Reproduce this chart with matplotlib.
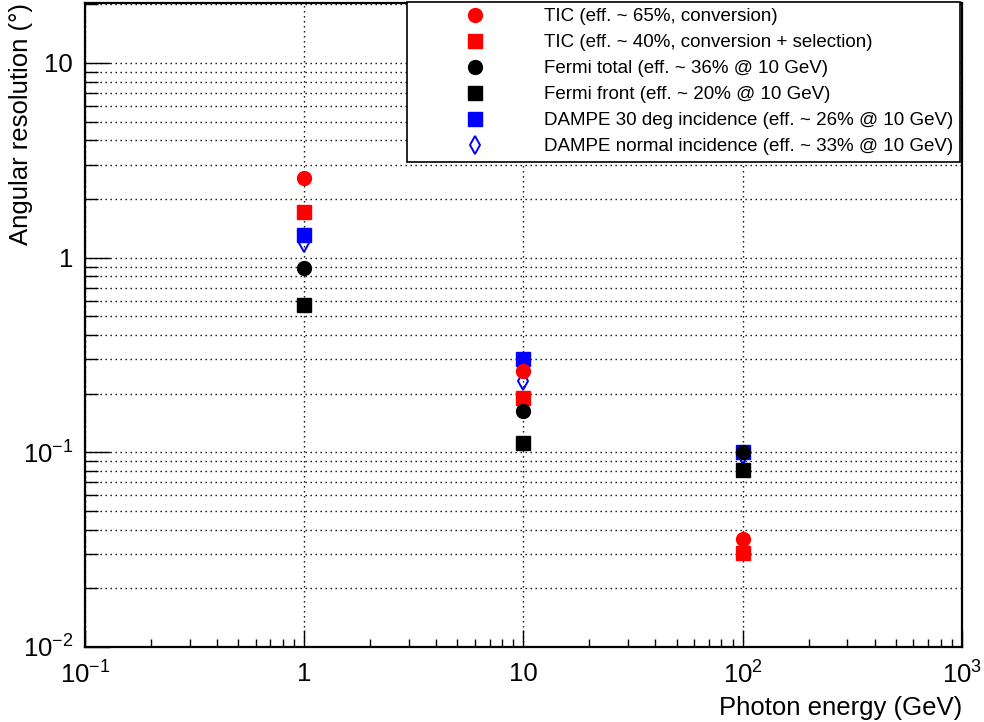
import matplotlib
matplotlib.use("Agg")
import matplotlib.pyplot as plt
from matplotlib.ticker import FixedLocator, FixedFormatter, NullFormatter

plt.rcParams['font.family'] = ['Liberation Sans', 'DejaVu Sans']
plt.rcParams['mathtext.fontset'] = 'custom'
plt.rcParams['mathtext.rm'] = 'Liberation Sans'
plt.rcParams['mathtext.it'] = 'Liberation Sans'

# data (energy in GeV, angular resolution in degrees)
energy = [1, 10, 100]
tic_conv = [2.57, 0.26, 0.036]
tic_sel = [1.72, 0.189, 0.0303]
fermi_total = [0.88, 0.162, 0.100]
fermi_front = [0.57, 0.111, 0.081]
dampe_30 = [1.30, 0.303, 0.100]
dampe_normal = [1.19, 0.231, 0.097]

labels = [
    "TIC (eff. ~ 65%, conversion)",
    "TIC (eff. ~ 40%, conversion + selection)",
    "Fermi total (eff. ~ 36% @ 10 GeV)",
    "Fermi front (eff. ~ 20% @ 10 GeV)",
    "DAMPE 30 deg incidence (eff. ~ 26% @ 10 GeV)",
    "DAMPE normal incidence (eff. ~ 33% @ 10 GeV)",
]

xticks = [0.1, 1, 10, 100, 1000]
xticklabels = ["$10^{-1}$", "1", "10", "$10^{2}$", "$10^{3}$"]
yticks = [0.01, 0.1, 1, 10]
yticklabels = ["$10^{-2}$", "$10^{-1}$", "1", "10"]

fig = plt.figure(figsize=(9.84, 7.22), dpi=100)
ax = fig.add_axes([0.0864, 0.1039, 0.8912, 0.8919])
ax.set_xscale('log')
ax.set_yscale('log')
ax.set_xlim(0.1, 1000)
ax.set_ylim(0.01, 20.3)

# draw order: DAMPE, TIC, Fermi
h5, = ax.plot(energy, dampe_30, 's', color='#0000ff', ms=9.5, ls='none', zorder=3)
h6, = ax.plot(energy, dampe_normal, 'd', mfc='none', mec='#0000ff', mew=1.4, ms=9, ls='none', zorder=3)
h1, = ax.plot(energy, tic_conv, 'o', color='#ff0000', ms=10, ls='none', zorder=3)
h2, = ax.plot(energy, tic_sel, 's', color='#ff0000', ms=9.5, ls='none', zorder=3)
h3, = ax.plot(energy, fermi_total, 'o', color='black', ms=10, ls='none', zorder=3)
h4, = ax.plot(energy, fermi_front, 's', color='black', ms=9.5, ls='none', zorder=3)

# ticks
ax.xaxis.set_major_locator(FixedLocator(xticks))
ax.xaxis.set_major_formatter(FixedFormatter(xticklabels))
ax.xaxis.set_minor_locator(FixedLocator([m * 10.0 ** k for k in range(-1, 3) for m in range(2, 10)]))
ax.xaxis.set_minor_formatter(NullFormatter())
ax.yaxis.set_major_locator(FixedLocator(yticks))
ax.yaxis.set_major_formatter(FixedFormatter(yticklabels))
ax.yaxis.set_minor_locator(FixedLocator([m * 10.0 ** k for k in range(-2, 2) for m in range(2, 10)]))
ax.yaxis.set_minor_formatter(NullFormatter())

ax.tick_params(axis='both', which='both', direction='in', top=False, right=False, labelsize=18.5, width=1)
ax.tick_params(axis='x', which='major', length=12.5, pad=10.5)
ax.tick_params(axis='x', which='minor', length=6)
ax.tick_params(axis='y', which='major', length=18, pad=8.5)
ax.tick_params(axis='y', which='minor', length=9.5)

for s in ax.spines.values():
    s.set_linewidth(1.6)

# grid
ax.grid(True, which='major', axis='x', color='black', lw=1, ls=(0, (1, 2.6)))
ax.grid(True, which='both', axis='y', color='black', lw=1, ls=(0, (1, 2.6)))
ax.set_axisbelow(True)

ax.set_xlabel("Photon energy (GeV)", fontsize=18.5, loc='right', labelpad=5)
ax.set_ylabel("Angular resolution (°)", fontsize=18.5, loc='top')
ax.yaxis.set_label_coords(-0.0593, 1.0)

leg = ax.legend([h1, h2, h3, h4, h5, h6], labels, loc='upper right',
                bbox_to_anchor=(0.998, 1.002), fontsize=13.5, frameon=True,
                fancybox=False, edgecolor='black', framealpha=1,
                handlelength=6.6, handletextpad=0.4, borderpad=0.35,
                labelspacing=0.47, borderaxespad=0)
leg.get_frame().set_linewidth(1.2)

fig.savefig("out.png", dpi=100)
